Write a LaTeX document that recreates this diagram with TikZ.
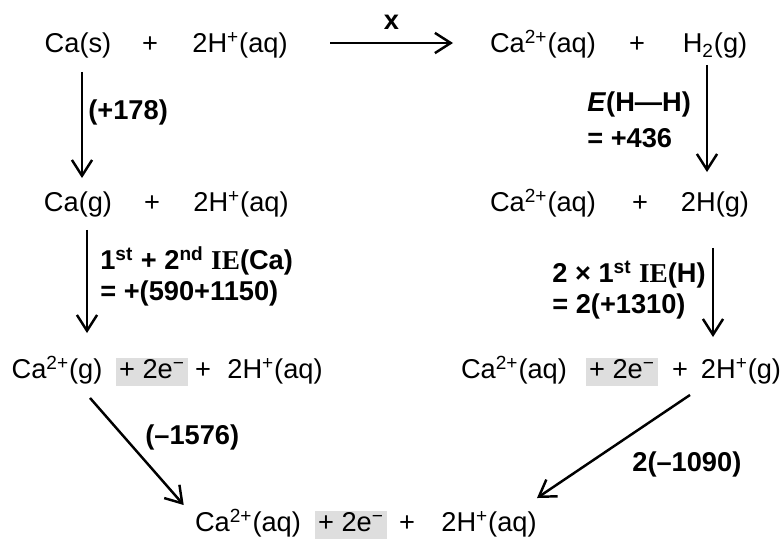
\documentclass[tikz,border=0pt]{standalone}
\usepackage{fontspec}
\setmainfont{Liberation Sans}
\newfontfamily\iefont{Liberation Serif}
\usetikzlibrary{arrows.meta,calc}

\begin{document}
\begin{tikzpicture}[
    x=0.02cm, y=0.02cm,
    >={Straight Barb[length=9pt,width=11.5pt]},
    species/.style={font=\fontsize{15.5}{18}\selectfont, inner sep=0pt, text height=11.6pt, text depth=3.9pt},
    shade/.style={species, fill=black!13, inner xsep=2pt},
    lbl/.style={font=\fontsize{15.5}{17.5}\selectfont\bfseries, inner sep=0pt, align=left},
    rxn/.style={->, line width=1.4pt}
]
    \useasboundingbox (0,0) rectangle (784,538);

    % Top row
    \node[species] (cas) at (78,492) {Ca(s)};
    \node[species] (pa) at (150,492) {+};
    \node[species] (hqa) at (240,492) {2H\textsuperscript{+}(aq)};
    \node[species] (caqa) at (543,492) {Ca\textsuperscript{2+}(aq)};
    \node[species] (pb) at (637,492) {+};
    \node[species] (hhb) at (715,492) {H\textsubscript{2}(g)};

    % Gaseous atoms
    \node[species] (cag) at (78,333) {Ca(g)};
    \node[species] (pc) at (152,333) {+};
    \node[species] (hqc) at (241,333) {2H\textsuperscript{+}(aq)};
    \node[species] (caqd) at (543,333) {Ca\textsuperscript{2+}(aq)};
    \node[species] (pd) at (640,333) {+};
    \node[species] (hgd) at (715,333) {2H(g)};

    % Gaseous ions
    \node[species] (cagi) at (57,166) {Ca\textsuperscript{2+}(g)};
    \node[shade] (ea) at (152,166) {+ 2e\textsuperscript{−}};
    \node[species] (pe) at (203,166) {+};
    \node[species] (hqe) at (275,166) {2H\textsuperscript{+}(aq)};
    \node[species] (caqf) at (514,166) {Ca\textsuperscript{2+}(aq)};
    \node[shade] (eb) at (622,166) {+ 2e\textsuperscript{−}};
    \node[species] (pf) at (680,166) {+};
    \node[species] (hgf) at (741,166) {2H\textsuperscript{+}(g)};

    % Hydrated ions
    \node[species] (caqz) at (248,13) {Ca\textsuperscript{2+}(aq)};
    \node[shade] (ez) at (351,13) {+ 2e\textsuperscript{−}};
    \node[species] (pz) at (407,13) {+};
    \node[species] (hqz) at (489,13) {2H\textsuperscript{+}(aq)};

    % Energy labels
    \node[lbl, anchor=west] (lbsub) at (88,426) {(+178)};
    \node[lbl, anchor=west] (lbbond) at (587,418) {\textit{E}(H—H)\\[3pt]= +436};
    \node[lbl, anchor=west] (lbieca) at (100,262) {1\textsuperscript{st} + 2\textsuperscript{nd} {\iefont IE}(Ca)\\= +(590+1150)};
    \node[lbl, anchor=west] (lbieh) at (552,248) {2 × 1\textsuperscript{st} {\iefont IE}(H)\\= 2(+1310)};
    \node[lbl, anchor=west] (lbhydca) at (145,101) {(–1576)};
    \node[lbl, anchor=west] (lbhydh) at (632,74) {2(–1090)};

    % Steps
    \draw[rxn] ($(hqa)+(90,3)$) -- node[lbl, above=7pt] (xlab) {x} ($(caqa)+(-90,3)$);
    \draw[rxn] ($(cas.south)+(4,-12)$) -- ($(cag.north)+(4,13)$);
    \draw[rxn] ($(hhb.south)+(-8,-5)$) -- ($(hgd.north)+(-8,19)$);
    \draw[rxn] ($(cag.south)+(9,-11)$) -- ($(cagi.north)+(30,25)$);
    \draw[rxn] ($(hgd.south)+(-2,-29)$) -- ($(hgf.north)+(-28,21)$);
    \draw[rxn] ($(cagi.south)+(33,-12)$) -- ($(caqz.north west)+(-11,6)$);
    \draw[rxn] ($(pf.south)+(10,-9)$) -- ($(hqz.north east)+(0,13)$);
\end{tikzpicture}
\end{document}
